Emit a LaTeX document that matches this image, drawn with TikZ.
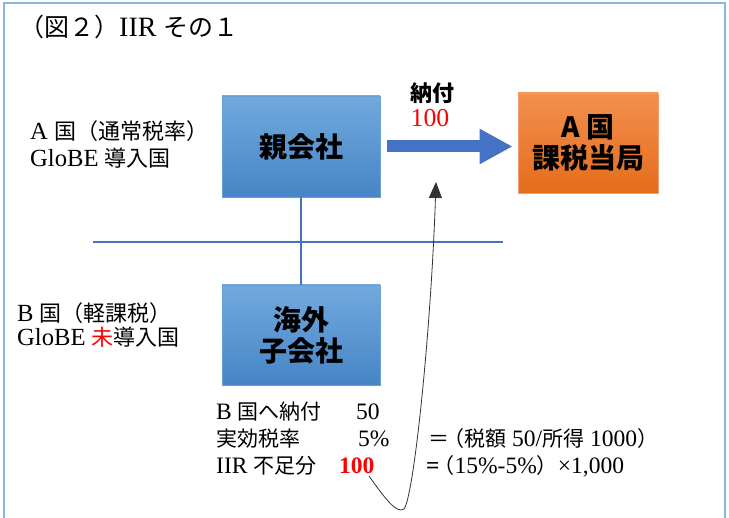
\documentclass[tikz,border=0pt]{standalone}
\usepackage{fontspec}
\setmainfont{Liberation Serif}[Scale=1.12]
\newfontfamily\jp{Noto Sans CJK JP}
\usetikzlibrary{arrows.meta,calc}
\definecolor{framec}{HTML}{8EB4E3}
\definecolor{bluetop}{HTML}{72A9DE}
\definecolor{bluebot}{HTML}{4685C6}
\definecolor{blueedge}{HTML}{6A9FD6}
\definecolor{orgtop}{HTML}{F2904F}
\definecolor{orgbot}{HTML}{E56C1B}
\definecolor{orgedge}{HTML}{F0A070}
\definecolor{arrowblue}{HTML}{4472C4}
\definecolor{linec}{HTML}{4472C4}
\definecolor{redc}{HTML}{FF0000}
\begin{document}
\begin{tikzpicture}[x=1pt,y=-1pt,
  bluebox/.style={draw=blueedge, line width=0.8pt, top color=bluetop, bottom color=bluebot,
     align=center, font=\jp\bfseries\fontsize{28}{33}\selectfont, inner sep=0pt},
  orgbox/.style={draw=orgedge, line width=0.8pt, top color=orgtop, bottom color=orgbot,
     align=center, font=\jp\bfseries\fontsize{28}{33}\selectfont, inner sep=0pt},
  txt/.style={anchor=base west, inner sep=0pt, font=\fontsize{21}{24}\selectfont},
  sidetxt/.style={txt, font=\fontsize{22}{24}\selectfont},
  thinline/.style={draw=linec, line width=1.1pt},
  payarrow/.style={draw=arrowblue, line width=12pt, -{Triangle[length=33pt,width=33pt]}},
  curvearrow/.style={draw=black!80, line width=0.8pt, -{Triangle[length=16pt,width=13pt]}}
]
\useasboundingbox (0,0) rectangle (729,518);
\fill[white] (0,0) rectangle (729,518);
\draw[framec, line width=1.5pt] (4,530) -- (4,3) -- (725,3) -- (725,530);

% title
\node[txt, font=\fontsize{25}{28}\selectfont] (title) at (19,37) {{\jp （図２）}IIR {\jp その１}};

% boxes
\node[bluebox, minimum width=158, minimum height=101] (parent) at (301,146.5) {親会社};
\node[bluebox, minimum width=158, minimum height=100] (child) at (301,335) {海外\\[-2pt]子会社};
\node[orgbox, minimum width=140, minimum height=100] (auth) at (588,143) {A 国\\[-2pt]課税当局};

% payment arrow
\draw[payarrow] ($(parent.east)+(7,0)$) -- ($(parent.east -| auth.west)+(-5,0)$);
\node[inner sep=0pt, font=\jp\bfseries\fontsize{22}{24}\selectfont] (pay) at (432,93) {納付};
\node[inner sep=0pt, font=\fontsize{23}{24}\selectfont, text=redc] (payamt) at (430,118) {100};

% lines
\coordinate (hl1) at (93,242);
\coordinate (hl2) at (503,242);
\draw[thinline] (parent.south) -- (child.north);
\draw[thinline] (hl1) -- (hl2);

% left labels
\node[sidetxt] (la1) at (30,140) {A {\jp 国（通常税率）}};
\node[sidetxt] (la2) at (30,167) {GloBE {\jp 導入国}};
\node[sidetxt] (lb1) at (17,322) {B {\jp 国（軽課税）}};
\node[sidetxt] (lb2) at (17,346) {GloBE {\jp\color{redc}未}{\jp 導入国}};

% bottom text
\node[txt] (b1) at (216,420) {B {\jp 国へ納付}};
\node[txt] (b1v) at (356,420) {50};
\node[txt] (b2) at (216,447) {\jp 実効税率};
\node[txt] (b2v) at (358,447) {5\%};
\node[txt] (b2f) at (428,447) {{\jp ＝}\kern-6pt{\jp （税額} 50/{\jp 所得} 1000{\jp ）}};
\node[txt] (b3) at (216,474) {IIR {\jp 不足分}};
\node[txt, font=\bfseries\fontsize{21}{24}\selectfont, text=redc] (b3v) at (339,474) {100};
\node[txt] (b3f) at (426,474) {{\bfseries =}\kern-6pt{\jp （}15\%-5\%{\jp ）}×1,000};

% curve arrow
\coordinate (cs) at (369,476);
\coordinate (ct) at (436,182);
\draw[curvearrow] (cs) .. controls (386,500) and (397,514) .. (404,509) .. controls (414,496) and (431,330) .. (ct);
\end{tikzpicture}
\end{document}
